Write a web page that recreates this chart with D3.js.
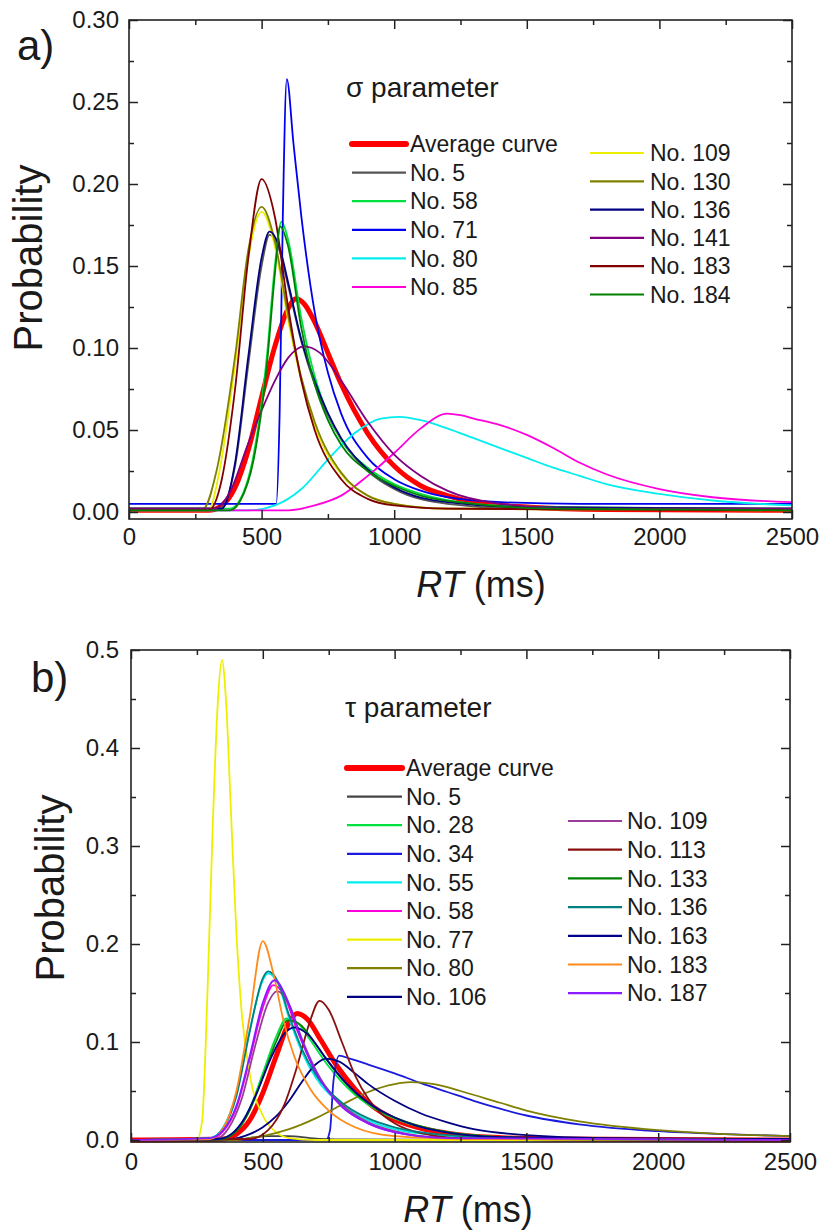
<!DOCTYPE html>
<html>
<head>
<meta charset="utf-8">
<script src="https://cdn.jsdelivr.net/npm/d3@7"></script>
<style>
body { margin: 0; background: #fff; }
svg text { font-family: "Liberation Sans", Arial, sans-serif; fill: #1a1a1a; }
</style>
</head>
<body>
<script>
// ---- shared axis values ----
var rtTicks = [0, 500, 1000, 1500, 2000, 2500];
var rtMinor = [250, 750, 1250, 1750, 2250];
var probTicksA = [0, 0.05, 0.10, 0.15, 0.20, 0.25, 0.30];
var probMinorA = [0.025, 0.075, 0.125, 0.175, 0.225, 0.275];
var probTicksB = [0, 0.1, 0.2, 0.3, 0.4, 0.5];
var probMinorB = [0.05, 0.15, 0.25, 0.35, 0.45];

// ---- panel a: sigma parameter, [RT ms, probability] ----
var namesA = ["Average curve", "No. 5", "No. 58", "No. 71", "No. 80", "No. 85",
              "No. 109", "No. 130", "No. 136", "No. 141", "No. 183", "No. 184"];
var avgA = [[0,0.001],[300,0.001],[350,0.004],[400,0.015],[450,0.038],[500,0.070],[550,0.101],[600,0.124],[630,0.130],[660,0.127],[700,0.116],[750,0.097],[800,0.078],[900,0.048],[1000,0.028],[1100,0.016],[1200,0.010],[1300,0.006],[1500,0.003],[1800,0.0015],[2500,0.001]];
var no5A = [[0,0.002],[340,0.002],[400,0.028],[450,0.090],[500,0.150],[530,0.169],[570,0.158],[600,0.138],[650,0.104],[700,0.078],[800,0.044],[900,0.025],[1000,0.014],[1200,0.005],[1500,0.002],[2500,0.002]];
var no58A = [[0,0.002],[380,0.002],[420,0.008],[470,0.035],[520,0.095],[550,0.150],[575,0.177],[600,0.166],[650,0.118],[700,0.083],[750,0.060],[800,0.044],[900,0.027],[1000,0.017],[1100,0.011],[1300,0.005],[1600,0.003],[2500,0.002]];
var no71A = [[0,0.005],[555,0.005],[568,0.06],[580,0.18],[595,0.264],[620,0.225],[650,0.180],[700,0.122],[750,0.085],[800,0.060],[900,0.033],[1000,0.020],[1100,0.013],[1200,0.009],[1400,0.006],[1700,0.005],[2500,0.005]];
var no80A = [[0,0.001],[450,0.001],[550,0.004],[650,0.014],[750,0.032],[850,0.048],[950,0.057],[1020,0.058],[1100,0.056],[1200,0.051],[1300,0.045],[1400,0.039],[1500,0.033],[1600,0.027],[1700,0.022],[1800,0.017],[2000,0.011],[2200,0.007],[2500,0.004]];
var no85A = [[0,0.001],[600,0.001],[700,0.004],[800,0.010],[900,0.022],[1000,0.036],[1100,0.051],[1200,0.060],[1250,0.059],[1300,0.057],[1400,0.053],[1500,0.047],[1600,0.039],[1700,0.030],[1800,0.023],[2000,0.014],[2200,0.009],[2500,0.006]];
var no109A = [[0,0.001],[300,0.001],[340,0.024],[400,0.090],[450,0.155],[500,0.183],[550,0.162],[600,0.117],[650,0.080],[700,0.053],[800,0.023],[900,0.010],[1000,0.005],[1200,0.002],[2500,0.001]];
var no130A = [[0,0.002],[280,0.002],[330,0.025],[400,0.095],[450,0.160],[500,0.186],[550,0.165],[600,0.120],[650,0.082],[700,0.055],[800,0.024],[900,0.010],[1000,0.005],[1200,0.002],[2500,0.001]];
var no136A = [[0,0.002],[350,0.002],[400,0.030],[450,0.095],[500,0.155],[530,0.171],[570,0.160],[600,0.140],[650,0.105],[700,0.080],[800,0.045],[900,0.026],[1000,0.015],[1200,0.006],[1500,0.003],[2500,0.002]];
var no141A = [[0,0.002],[320,0.002],[380,0.012],[450,0.042],[500,0.062],[550,0.080],[600,0.094],[660,0.101],[720,0.097],[800,0.080],[900,0.055],[1000,0.035],[1100,0.022],[1200,0.013],[1400,0.005],[1700,0.002],[2500,0.002]];
var no183A = [[0,0.001],[300,0.001],[350,0.020],[400,0.075],[450,0.155],[500,0.203],[550,0.180],[600,0.125],[650,0.080],[700,0.050],[800,0.020],[900,0.008],[1000,0.004],[1200,0.002],[2500,0.001]];
var no184A = [[0,0.001],[380,0.001],[420,0.007],[470,0.032],[520,0.090],[550,0.145],[570,0.174],[600,0.162],[650,0.112],[700,0.078],[750,0.056],[800,0.041],[900,0.025],[1000,0.016],[1100,0.010],[1300,0.005],[1600,0.002],[2500,0.001]];
var seriesA = [avgA, no5A, no58A, no71A, no80A, no85A, no109A, no130A, no136A, no141A, no183A, no184A];
var colorsA = ["#ff0000", "#555555", "#00e040", "#0000ee", "#00eeee", "#ff00dd",
               "#eeee00", "#808000", "#000080", "#800080", "#800000", "#008000"];

// ---- panel b: tau parameter ----
var namesB = ["Average curve", "No. 5", "No. 28", "No. 34", "No. 55", "No. 58", "No. 77", "No. 80", "No. 106",
              "No. 109", "No. 113", "No. 133", "No. 136", "No. 163", "No. 183", "No. 187"];
var avgB = [[0,0],[350,0.001],[400,0.006],[450,0.020],[500,0.048],[550,0.085],[600,0.120],[630,0.129],[670,0.123],[720,0.102],[780,0.076],[850,0.052],[900,0.038],[1000,0.021],[1100,0.012],[1200,0.007],[1350,0.003],[1600,0.001],[2500,0]];
var no5B = [[0,0],[400,0],[450,0.002],[520,0.004],[600,0.004],[680,0.002],[800,0.0005],[2500,0]];
var no28B = [[0,0],[330,0.001],[400,0.010],[450,0.032],[500,0.068],[550,0.105],[590,0.124],[630,0.120],[680,0.102],[750,0.075],[850,0.046],[950,0.028],[1050,0.017],[1200,0.008],[1400,0.003],[1700,0.001],[2500,0]];
var no34B = [[0,0],[740,0],[755,0.01],[768,0.06],[790,0.086],[830,0.083],[900,0.077],[1000,0.068],[1100,0.058],[1200,0.049],[1300,0.040],[1400,0.032],[1500,0.025],[1700,0.016],[2000,0.009],[2250,0.006],[2500,0.004]];
var no55B = [[0,0],[300,0.002],[350,0.013],[400,0.048],[450,0.112],[500,0.163],[520,0.170],[560,0.158],[600,0.124],[650,0.089],[700,0.064],[800,0.036],[900,0.020],[1000,0.011],[1200,0.004],[1500,0.001],[2500,0]];
var no58B = [[0,0],[300,0.001],[350,0.009],[400,0.033],[450,0.082],[500,0.135],[540,0.158],[580,0.148],[630,0.112],[700,0.070],[800,0.034],[900,0.017],[1000,0.008],[1200,0.002],[2500,0]];
var no77B = [[0,0],[250,0],[270,0.02],[290,0.15],[310,0.32],[330,0.45],[345,0.49],[360,0.45],[380,0.33],[400,0.21],[420,0.13],[450,0.068],[500,0.025],[550,0.008],[600,0.002],[700,0],[2500,0]];
var no80B = [[0,0],[400,0],[450,0.002],[500,0.004],[600,0.011],[700,0.022],[800,0.036],[900,0.049],[1000,0.057],[1060,0.059],[1150,0.057],[1250,0.050],[1400,0.038],[1500,0.030],[1700,0.019],[2000,0.010],[2250,0.006],[2500,0.004]];
var no106B = [[0,0],[380,0.001],[450,0.006],[500,0.013],[550,0.024],[600,0.040],[650,0.060],[700,0.077],[740,0.083],[790,0.080],[850,0.068],[900,0.057],[1000,0.040],[1100,0.027],[1200,0.018],[1300,0.011],[1500,0.005],[1800,0.002],[2500,0.001]];
var no109B = [[0,0],[320,0.001],[370,0.012],[420,0.042],[470,0.095],[520,0.140],[555,0.152],[600,0.138],[650,0.102],[720,0.062],[800,0.036],[900,0.018],[1000,0.009],[1200,0.002],[2500,0]];
var no113B = [[0,0],[450,0.001],[520,0.010],[580,0.035],[630,0.075],[680,0.122],[715,0.142],[750,0.133],[800,0.100],[850,0.066],[900,0.042],[1000,0.017],[1100,0.007],[1300,0.001],[2500,0]];
var no133B = [[0,0],[340,0.001],[400,0.009],[450,0.030],[500,0.064],[550,0.100],[595,0.122],[640,0.118],[700,0.098],[770,0.072],[850,0.048],[950,0.029],[1050,0.018],[1200,0.008],[1400,0.003],[1700,0.001],[2500,0]];
var no136B = [[0,0],[300,0.002],[350,0.012],[400,0.045],[450,0.110],[500,0.165],[520,0.172],[560,0.160],[600,0.127],[650,0.092],[700,0.067],[800,0.038],[900,0.022],[1000,0.013],[1200,0.005],[1500,0.001],[2500,0]];
var no163B = [[0,0],[330,0.001],[380,0.006],[430,0.022],[480,0.050],[530,0.083],[580,0.108],[620,0.115],[670,0.108],[740,0.083],[820,0.057],[900,0.038],[1000,0.023],[1150,0.010],[1400,0.003],[2500,0]];
var no183B = [[0,0],[300,0.001],[350,0.012],[400,0.050],[450,0.125],[500,0.203],[540,0.170],[580,0.120],[620,0.085],[680,0.052],[750,0.030],[850,0.013],[1000,0.004],[1300,0.001],[2500,0]];
var no187B = [[0,0],[300,0.002],[350,0.010],[400,0.035],[450,0.085],[500,0.140],[545,0.163],[590,0.145],[640,0.107],[700,0.070],[800,0.034],[900,0.017],[1000,0.008],[1200,0.002],[2500,0]];
var seriesB = [avgB, no5B, no28B, no34B, no55B, no58B, no77B, no80B, no106B,
               no109B, no113B, no133B, no136B, no163B, no183B, no187B];
var colorsB = ["#ff0000", "#444444", "#00e040", "#1a1add", "#00eeee", "#ff00dd", "#eeee00", "#808000", "#000080",
               "#9a3c9a", "#8a1010", "#008000", "#008080", "#00008c", "#ff8a1a", "#8a1aff"];

var svg = d3.select("body").append("svg")
    .attr("width", 821)
    .attr("height", 1232);

function drawPanel(p) {
    var x = d3.scaleLinear().domain([0, 2500]).range([p.left, p.right]);
    var y = d3.scaleLinear().domain([0, p.yMax]).range([p.zeroY, p.top]);
    var g = svg.append("g");

    var line = d3.line()
        .x(function(d) { return x(d[0]); })
        .y(function(d) { return y(d[1]); })
        .curve(d3.curveMonotoneX);

    g.selectAll("path.curve")
        .data(p.series)
        .enter()
        .append("path")
            .attr("class", "curve")
            .attr("d", line)
            .attr("fill", "none")
            .attr("stroke", function(d, i) { return p.colors[i]; })
            .attr("stroke-width", function(d, i) { return i === 0 ? 5 : 1.8; })
            .attr("stroke-linejoin", "round");

    // frame
    g.append("rect")
        .attr("x", p.left).attr("y", p.top)
        .attr("width", p.right - p.left).attr("height", p.bottom - p.top)
        .attr("fill", "none").attr("stroke", "#222").attr("stroke-width", 1.6);

    function styleAxis(sel) {
        sel.select(".domain").remove();
        sel.selectAll("line").attr("stroke", "#222").attr("stroke-width", 1.5);
        sel.selectAll("text").attr("font-size", 24).attr("fill", "#1a1a1a");
    }

    g.append("g").attr("transform", "translate(0," + p.bottom + ")")
        .call(d3.axisBottom(x).tickValues(rtTicks).tickSize(-9).tickPadding(p.xPad).tickFormat(d3.format("d")))
        .call(styleAxis);
    g.append("g").attr("transform", "translate(0," + p.bottom + ")")
        .call(d3.axisBottom(x).tickValues(rtMinor).tickSize(-5).tickFormat(""))
        .call(styleAxis);
    g.append("g").attr("transform", "translate(0," + p.top + ")")
        .call(d3.axisTop(x).tickValues(rtTicks).tickSize(-9).tickFormat(""))
        .call(styleAxis);
    g.append("g").attr("transform", "translate(0," + p.top + ")")
        .call(d3.axisTop(x).tickValues(rtMinor).tickSize(-5).tickFormat(""))
        .call(styleAxis);

    g.append("g").attr("transform", "translate(" + p.left + ",0)")
        .call(d3.axisLeft(y).tickValues(p.yTicks).tickSize(-9).tickPadding(p.yPad).tickFormat(d3.format(p.yFmt)))
        .call(styleAxis);
    g.append("g").attr("transform", "translate(" + p.left + ",0)")
        .call(d3.axisLeft(y).tickValues(p.yMinor).tickSize(-5).tickFormat(""))
        .call(styleAxis);
    g.append("g").attr("transform", "translate(" + p.right + ",0)")
        .call(d3.axisRight(y).tickValues(p.yTicks).tickSize(-9).tickFormat(""))
        .call(styleAxis);
    g.append("g").attr("transform", "translate(" + p.right + ",0)")
        .call(d3.axisRight(y).tickValues(p.yMinor).tickSize(-5).tickFormat(""))
        .call(styleAxis);

    // panel letter
    g.append("text").text(p.letter)
        .attr("x", p.letterX).attr("y", p.letterY)
        .attr("font-size", 42);

    // y title
    g.append("text").text("Probability")
        .attr("text-anchor", "middle")
        .attr("font-size", 40)
        .attr("transform", "translate(" + p.yTitleX + "," + p.yTitleY + ") rotate(-90)");

    // x title
    var xt = g.append("text")
        .attr("x", p.xTitleX).attr("y", p.xTitleY)
        .attr("text-anchor", "middle")
        .attr("font-size", 36);
    xt.append("tspan").attr("font-style", "italic").text("RT");
    xt.append("tspan").text(" (ms)");

    // parameter label
    g.append("text").text(p.param)
        .attr("x", p.paramX).attr("y", p.paramY)
        .attr("font-size", 28);

    // legend
    p.legendCols.forEach(function(col) {
        var rows = g.append("g").selectAll("g")
            .data(d3.range(col.from, col.to))
            .enter()
            .append("g")
                .attr("transform", function(d, i) {
                    return "translate(0," + (col.y0 + i * col.dy) + ")";
                });
        rows.append("line")
            .attr("x1", col.x0).attr("x2", col.x1)
            .attr("y1", 0).attr("y2", 0)
            .attr("stroke", function(d) { return p.colors[d]; })
            .attr("stroke-width", function(d) { return d === 0 ? 6 : 2.2; })
            .attr("stroke-linecap", function(d) { return d === 0 ? "round" : "butt"; });
        rows.append("text")
            .attr("x", col.tx).attr("dy", "0.36em")
            .attr("font-size", 23)
            .text(function(d) { return p.names[d]; });
    });
}

drawPanel({
    left: 129, right: 792, top: 20, bottom: 519, zeroY: 512, yMax: 0.30,
    yTicks: probTicksA, yMinor: probMinorA, yFmt: ".2f", xPad: 9, yPad: 10,
    series: seriesA, colors: colorsA, names: namesA,
    letter: "a)", letterX: 17, letterY: 60,
    yTitleX: 42, yTitleY: 258,
    xTitleX: 481, xTitleY: 597,
    param: "\u03c3 parameter", paramX: 346, paramY: 97,
    legendCols: [
        {from: 0, to: 6, x0: 352, x1: 406, tx: 410, y0: 144, dy: 28.6},
        {from: 6, to: 12, x0: 590, x1: 644, tx: 650, y0: 153, dy: 28.3}
    ]
});

drawPanel({
    left: 131, right: 790, top: 650, bottom: 1142, zeroY: 1140, yMax: 0.5,
    yTicks: probTicksB, yMinor: probMinorB, yFmt: ".1f", xPad: 11, yPad: 12,
    series: seriesB, colors: colorsB, names: namesB,
    letter: "b)", letterX: 31, letterY: 692,
    yTitleX: 64, yTitleY: 888,
    xTitleX: 468, xTitleY: 1222,
    param: "\u03c4 parameter", paramX: 345, paramY: 717,
    legendCols: [
        {from: 0, to: 9, x0: 347, x1: 402, tx: 406, y0: 768, dy: 28.6},
        {from: 9, to: 16, x0: 568, x1: 622, tx: 627, y0: 821, dy: 28.7}
    ]
});
</script>
</body>
</html>
